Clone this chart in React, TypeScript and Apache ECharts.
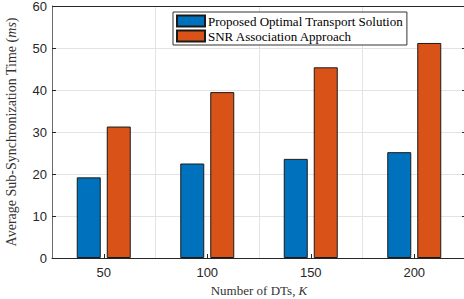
import React, { useEffect, useRef } from "react";
import * as echarts from "echarts";

const categories = ["50", "100", "150", "200"];
const proposedValues = [19.2, 22.5, 23.6, 25.2];
const snrValues = [31.3, 39.5, 45.4, 51.2];
const seriesNames = ["Proposed Optimal Transport Solution", "SNR Association Approach"];

export default function App() {
  const ref = useRef<HTMLDivElement>(null);
  useEffect(() => {
    if (!ref.current) return;
    const chart = echarts.init(ref.current, undefined, { renderer: "svg" });
    const serif = "'Liberation Serif', 'DejaVu Serif', serif";
    const sans = "'Liberation Sans', Arial, sans-serif";
    chart.setOption({
      animation: false,
      backgroundColor: "#ffffff",
      grid: { left: 52, top: 6, width: 414, height: 252, containLabel: false, outerBoundsMode: "none" },
      legend: {
        left: 173,
        top: 12,
        orient: "vertical",
        icon: "rect",
        itemWidth: 28,
        itemHeight: 11,
        itemGap: 1,
        padding: [2, 4, 2, 3],
        backgroundColor: "#ffffff",
        borderColor: "#333333",
        borderWidth: 1,
        textStyle: { fontFamily: serif, fontSize: 13, lineHeight: 14, color: "#000", padding: [0, 0, 0, -2] },
        data: seriesNames,
      },
      xAxis: {
        type: "category",
        data: categories,
        boundaryGap: true,
        name: "Number of DTs, {i|K}",
        nameLocation: "middle",
        nameGap: 20,
        nameTextStyle: {
          fontFamily: serif,
          fontSize: 13,
          color: "#333",
          rich: { i: { fontFamily: serif, fontStyle: "italic", fontSize: 13, color: "#333" } },
        },
        axisLine: { show: true, lineStyle: { color: "#262626", width: 1 } },
        axisTick: { show: true, inside: true, alignWithLabel: true, length: 4, lineStyle: { color: "#262626" } },
        axisLabel: { fontFamily: sans, fontSize: 13, color: "#262626", margin: 8 },
        splitLine: { show: true, lineStyle: { color: "#e3e3e3", width: 1 } },
      },
      yAxis: [
        {
          type: "value",
          min: 0,
          max: 60,
          interval: 10,
          name: "Average Sub-Synchronization Time ({i|ms})",
          nameLocation: "middle",
          nameGap: 34,
          nameTextStyle: {
            fontFamily: serif,
            fontSize: 14,
            color: "#333",
            rich: { i: { fontFamily: serif, fontStyle: "italic", fontSize: 14, color: "#333" } },
          },
          axisLine: { show: true, lineStyle: { color: "#6b6b6b", width: 1 } },
          axisTick: { show: true, inside: true, length: 4, lineStyle: { color: "#262626" } },
          axisLabel: { fontFamily: sans, fontSize: 13, color: "#262626", margin: 5 },
          splitLine: { show: true, lineStyle: { color: "#e3e3e3", width: 1 } },
        },
        {
          type: "value",
          min: 0,
          max: 60,
          interval: 10,
          position: "right",
          axisLine: { show: true, lineStyle: { color: "#262626", width: 1 } },
          axisTick: { show: true, inside: true, length: 4, lineStyle: { color: "#262626" } },
          axisLabel: { show: false },
          splitLine: { show: false },
        },
      ],
      graphic: [
        {
          type: "line",
          shape: { x1: 52, y1: 6.5, x2: 466, y2: 6.5 },
          style: { stroke: "#262626", lineWidth: 1 },
          z: 5,
        },
      ],
      series: [
        {
          name: seriesNames[0],
          type: "bar",
          data: proposedValues,
          barWidth: 24,
          barGap: "25%",
          itemStyle: { color: "#0072BD", borderColor: "#1a1a1a", borderWidth: 1, borderRadius: 0 },
        },
        {
          name: seriesNames[1],
          type: "bar",
          data: snrValues,
          barWidth: 24,
          barGap: "25%",
          itemStyle: { color: "#D95319", borderColor: "#1a1a1a", borderWidth: 1, borderRadius: 0 },
        },
      ],
    });
    return () => chart.dispose();
  }, []);
  return <div ref={ref} style={{ width: 464, height: 299, position: "absolute", left: 0, top: 0 }} />;
}
